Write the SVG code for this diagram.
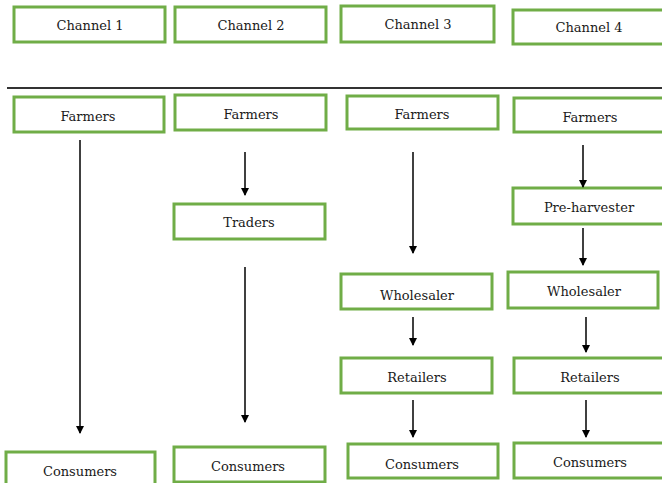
<svg xmlns="http://www.w3.org/2000/svg" width="662" height="483" viewBox="0 0 662 483">
<style>
.box{fill:#fff;stroke:#70AD47;stroke-width:3}
.t{font-family:'DejaVu Serif',serif;font-size:13px;fill:#1a1a1a;text-anchor:middle;dominant-baseline:central}
.c{stroke:#000;stroke-width:1.5;fill:none;marker-end:url(#ah)}
</style>
<defs>
<marker id="ah" markerWidth="8" markerHeight="10" refX="7" refY="4" orient="auto" markerUnits="userSpaceOnUse" viewBox="0 0 8 8">
<path d="M0,0 L8,4 L0,8 Z" fill="#000"/>
</marker>
</defs>
<rect width="662" height="483" fill="#fff"/>
<line x1="7" y1="88" x2="662" y2="88" stroke="#333" stroke-width="2"/>
<g id="ch1"><rect class="box" x="14" y="7" width="151" height="35"/><text class="t" x="90" y="25">Channel 1</text></g>
<g id="ch2"><rect class="box" x="175" y="7" width="151" height="35"/><text class="t" x="251" y="25">Channel 2</text></g>
<g id="ch3"><rect class="box" x="341" y="6" width="153" height="36"/><text class="t" x="418" y="24">Channel 3</text></g>
<g id="ch4"><rect class="box" x="513" y="10" width="152" height="34"/><text class="t" x="589" y="27">Channel 4</text></g>
<g id="f1"><rect class="box" x="14" y="97" width="150" height="35"/><text class="t" x="88" y="116">Farmers</text></g>
<g id="f2"><rect class="box" x="175" y="95" width="151" height="35"/><text class="t" x="251" y="114">Farmers</text></g>
<g id="f3"><rect class="box" x="347" y="96" width="151" height="33"/><text class="t" x="422" y="114">Farmers</text></g>
<g id="f4"><rect class="box" x="514" y="98" width="151" height="34"/><text class="t" x="590" y="117">Farmers</text></g>
<g id="tr2"><rect class="box" x="174" y="204" width="151" height="35"/><text class="t" x="249" y="222">Traders</text></g>
<g id="ph4"><rect class="box" x="513" y="188" width="152" height="36"/><text class="t" x="589" y="207">Pre-harvester</text></g>
<g id="w3"><rect class="box" x="341" y="274" width="151" height="35"/><text class="t" x="417" y="295">Wholesaler</text></g>
<g id="w4"><rect class="box" x="508" y="272" width="150" height="36"/><text class="t" x="584" y="291">Wholesaler</text></g>
<g id="r3"><rect class="box" x="341" y="358" width="151" height="35"/><text class="t" x="417" y="377">Retailers</text></g>
<g id="r4"><rect class="box" x="514" y="358" width="151" height="35"/><text class="t" x="590" y="377">Retailers</text></g>
<g id="co1"><rect class="box" x="6" y="452" width="149" height="34"/><text class="t" x="80" y="471">Consumers</text></g>
<g id="co2"><rect class="box" x="174" y="447" width="151" height="35"/><text class="t" x="248" y="466">Consumers</text></g>
<g id="co3"><rect class="box" x="348" y="444" width="150" height="34"/><text class="t" x="422" y="464">Consumers</text></g>
<g id="co4"><rect class="box" x="514" y="443" width="151" height="35"/><text class="t" x="590" y="462">Consumers</text></g>
<g id="connectors">
<line class="c" x1="80" y1="140" x2="80" y2="433"/>
<line class="c" x1="245" y1="152" x2="245" y2="195"/>
<line class="c" x1="245" y1="267" x2="245" y2="422"/>
<line class="c" x1="413" y1="152" x2="413" y2="253"/>
<line class="c" x1="413" y1="317" x2="413" y2="345"/>
<line class="c" x1="413" y1="400" x2="413" y2="437"/>
<line class="c" x1="583" y1="145" x2="583" y2="187"/>
<line class="c" x1="583" y1="228" x2="583" y2="265"/>
<line class="c" x1="586" y1="317" x2="586" y2="352"/>
<line class="c" x1="586" y1="400" x2="586" y2="437"/>
</g>
</svg>
